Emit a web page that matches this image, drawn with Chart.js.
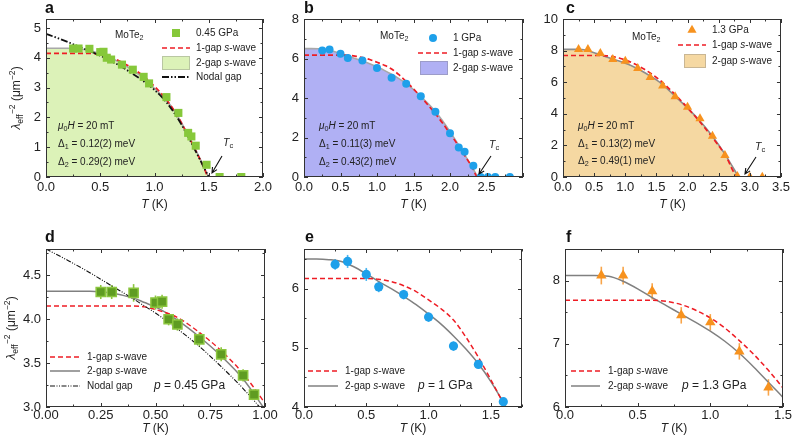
<!DOCTYPE html>
<html>
<head>
<meta charset="utf-8">
<script src="https://cdn.jsdelivr.net/npm/chart.js@4.4.1/dist/chart.umd.min.js"></script>
<style>
  body { margin: 0; background: #fff; width: 793px; height: 443px; overflow: hidden; position: relative; }
  canvas { position: absolute; }
</style>
</head>
<body>
<canvas id="cA" width="285" height="222" style="left:0;top:0"></canvas>
<canvas id="cB" width="275" height="222" style="left:270px;top:0"></canvas>
<canvas id="cC" width="263" height="222" style="left:530px;top:0"></canvas>
<canvas id="cD" width="285" height="221" style="left:0;top:222px"></canvas>
<canvas id="cE" width="275" height="221" style="left:270px;top:222px"></canvas>
<canvas id="cF" width="263" height="221" style="left:530px;top:222px"></canvas>
<script>
// ---- measured points (T in K, lambda^-2 in um^-2) ----
const t045 = [0.25, 0.30, 0.40, 0.50, 0.53, 0.56, 0.60, 0.70, 0.80, 0.90, 0.95, 1.11, 1.22, 1.31, 1.34, 1.38, 1.48, 1.60, 1.80];
const lam045 = [4.31, 4.31, 4.30, 4.19, 4.20, 4.00, 3.94, 3.77, 3.60, 3.36, 3.14, 2.68, 2.15, 1.48, 1.36, 1.05, 0.41, 0, 0];
const err045 = [0.08, 0.08, 0.10, 0.08, 0.08, 0.07, 0.07, 0.08, 0.08, 0.07, 0.06, 0.05, 0.05, 0.05, 0.05, 0.05, 0.05, 0.05, 0.05];

const t1 = [0.25, 0.35, 0.50, 0.60, 0.80, 1.00, 1.20, 1.40, 1.60, 1.80, 2.00, 2.12, 2.20, 2.32, 2.42, 2.52, 2.62, 2.82];
const lam1 = [6.41, 6.46, 6.24, 6.03, 5.90, 5.52, 5.03, 4.72, 4.09, 3.31, 2.21, 1.49, 1.28, 0.57, 0, 0, 0, 0];
const err1 = [0.09, 0.11, 0.11, 0.09, 0.08, 0.08, 0.08, 0.07, 0.06, 0.06, 0.06, 0.06, 0.06, 0.06, 0.06, 0.06, 0.06, 0.06];

const t13 = [0.25, 0.40, 0.60, 0.80, 1.00, 1.20, 1.40, 1.60, 1.80, 2.00, 2.20, 2.40, 2.60, 2.80, 3.00, 3.20];
const lam13 = [8.08, 8.08, 7.83, 7.45, 7.34, 6.88, 6.31, 5.77, 5.09, 4.43, 3.70, 2.59, 1.37, 0.05, 0, 0];
const err13 = [0.14, 0.14, 0.13, 0.13, 0.13, 0.13, 0.13, 0.1, 0.1, 0.1, 0.1, 0.1, 0.1, 0.1, 0.1, 0.1];

// ---- fitted curves ----
const fitT045 = [0, 0.1, 0.2, 0.3, 0.4, 0.45, 0.5, 0.6, 0.7, 0.8, 0.9, 1.0, 1.1, 1.2, 1.3, 1.4, 1.45, 1.5, 1.75, 2.0];
const oneGap045 = [4.15, 4.15, 4.15, 4.15, 4.15, 4.14, 4.11, 4.02, 3.85, 3.64, 3.38, 3.04, 2.64, 2.12, 1.46, 0.74, 0.36, 0, 0, 0];
const twoGap045 = [4.32, 4.32, 4.32, 4.30, 4.24, 4.19, 4.14, 3.99, 3.80, 3.58, 3.32, 2.97, 2.62, 2.12, 1.47, 0.76, 0.38, 0];
const nodal045 = [4.8, 4.67, 4.53, 4.38, 4.23, 4.15, 4.07, 3.89, 3.69, 3.46, 3.21, 2.92, 2.55, 2.05, 1.42, 0.72, 0.36, 0];

const fitT1 = [0, 0.1, 0.2, 0.3, 0.4, 0.5, 0.6, 0.7, 0.8, 0.9, 1.0, 1.1, 1.2, 1.3, 1.4, 1.5, 1.6, 1.7, 1.8, 1.9, 2.0, 2.1, 2.2, 2.3, 2.38, 2.7, 3.0];
const oneGap1 = [6.17, 6.17, 6.17, 6.17, 6.17, 6.17, 6.16, 6.12, 6.05, 5.95, 5.81, 5.66, 5.47, 5.18, 4.84, 4.46, 4.06, 3.64, 3.2, 2.72, 2.2, 1.67, 1.1, 0.52, 0, 0, 0];
const twoGap1 = [6.5, 6.5, 6.49, 6.46, 6.37, 6.25, 6.12, 6.0, 5.87, 5.73, 5.57, 5.4, 5.2, 4.98, 4.73, 4.43, 4.08, 3.72, 3.32, 2.84, 2.3, 1.73, 1.13, 0.52, 0];

const fitT13 = [0, 0.1, 0.2, 0.3, 0.4, 0.5, 0.6, 0.7, 0.8, 0.9, 1.0, 1.1, 1.2, 1.3, 1.4, 1.5, 1.6, 1.8, 2.0, 2.2, 2.4, 2.6, 2.82, 3.2, 3.5];
const oneGap13 = [7.69, 7.69, 7.69, 7.69, 7.69, 7.69, 7.69, 7.67, 7.62, 7.53, 7.41, 7.25, 7.05, 6.83, 6.58, 6.3, 5.98, 5.22, 4.38, 3.48, 2.5, 1.42, 0, 0, 0];
const twoGap13 = [8.08, 8.08, 8.08, 8.07, 7.99, 7.87, 7.73, 7.6, 7.47, 7.34, 7.2, 7.04, 6.85, 6.63, 6.39, 6.15, 5.85, 5.12, 4.36, 3.55, 2.58, 1.45, 0];

const FONT = '"Liberation Sans", Arial, Helvetica, sans-serif';
const RED = "#ee1c24";
const GREEN = "#86c83a", GREEN_D = "#5f9c22", GREEN_E = "#8cc63f";
const BLUE = "#1ea0ea", BLUE_E = "#4db6f0";
const ORANGE = "#f7921e", ORANGE_E = "#f8a54a";

function zip(xs, ys, es) {
  const n = Math.min(xs.length, ys.length);
  const out = [];
  for (let i = 0; i < n; i++) out.push({ x: xs[i], y: ys[i], e: es ? es[i] : 0 });
  return out;
}

// rich text: parts = [{t, i (italic), sub, sup}]
function partFont(p, size) {
  const s = (p.sub || p.sup) ? size * 0.72 : size;
  return (p.i ? "italic " : "") + (p.b ? "bold " : "") + s + "px " + FONT;
}
function richWidth(ctx, parts, size) {
  let w = 0;
  parts.forEach(p => { ctx.font = partFont(p, size); w += ctx.measureText(p.t).width; });
  return w;
}
function drawRich(ctx, parts, x, y, size, align) {
  let cx = x;
  if (align === "center") cx -= richWidth(ctx, parts, size) / 2;
  ctx.textAlign = "left";
  ctx.textBaseline = "middle";
  parts.forEach(p => {
    ctx.font = partFont(p, size);
    let dy = 0;
    if (p.sub) dy = size * 0.3;
    if (p.sup) dy = -size * 0.38;
    ctx.fillText(p.t, cx, y + dy);
    cx += ctx.measureText(p.t).width;
  });
}

const sWave1 = [{ t: "1-gap " }, { t: "s", i: 1 }, { t: "-wave" }];
const sWave2 = [{ t: "2-gap " }, { t: "s", i: 1 }, { t: "-wave" }];
const moTe = [{ t: "MoTe" }, { t: "2", sub: 1 }];
const yTitle = [{ t: "λ", i: 1 }, { t: "eff", sub: 1 }, { t: "−2", sup: 1 }, { t: " (μm" }, { t: "−2", sup: 1 }, { t: ")" }];
const xTitle = [{ t: "T", i: 1 }, { t: " (K)" }];
function fieldText() { return [{ t: "μ", i: 1 }, { t: "0", sub: 1 }, { t: "H", i: 1 }, { t: " = 20 mT" }]; }
function gapText(n, v) { return [{ t: "Δ" }, { t: String(n), sub: 1 }, { t: " = " + v + " meV" }]; }

const decos = {};

function drawKey(ctx, k) {
  ctx.save();
  if (k.kind === "point") {
    ctx.fillStyle = k.color;
    ctx.strokeStyle = k.color;
    Chart.helpers.drawPoint(ctx, { pointStyle: k.style, radius: k.r, rotation: 0, borderWidth: 0 }, k.x, k.y);
  } else if (k.kind === "box") {
    ctx.fillStyle = k.fill;
    ctx.fillRect(k.x1, k.y - 7, k.x2 - k.x1, 14);
    ctx.strokeStyle = "rgba(120,120,120,0.35)";
    ctx.lineWidth = 1;
    ctx.strokeRect(k.x1 + 0.5, k.y - 6.5, k.x2 - k.x1 - 1, 13);
  } else {
    ctx.beginPath();
    ctx.strokeStyle = k.color;
    ctx.lineWidth = k.w;
    ctx.setLineDash(k.dash || []);
    ctx.moveTo(k.x1, k.y);
    ctx.lineTo(k.x2, k.y);
    ctx.stroke();
  }
  ctx.restore();
  ctx.fillStyle = "#222";
  drawRich(ctx, k.text, k.tx, k.y, k.fs || 10);
}

function drawArrow(ctx, x1, y1, x2, y2) {
  ctx.save();
  ctx.strokeStyle = "#111";
  ctx.lineWidth = 1.1;
  ctx.beginPath();
  ctx.moveTo(x1, y1);
  ctx.lineTo(x2, y2);
  const a = Math.atan2(y2 - y1, x2 - x1);
  ctx.moveTo(x2 - 6 * Math.cos(a - 0.45), y2 - 6 * Math.sin(a - 0.45));
  ctx.lineTo(x2, y2);
  ctx.lineTo(x2 - 6 * Math.cos(a + 0.45), y2 - 6 * Math.sin(a + 0.45));
  ctx.stroke();
  ctx.restore();
}

Chart.register({
  id: "deco",
  beforeDatasetsDraw(chart) {
    const ctx = chart.ctx, ys = chart.scales.y, a = chart.chartArea;
    chart.data.datasets.forEach((ds, i) => {
      if (!ds.errColor) return;
      const meta = chart.getDatasetMeta(i);
      ctx.save();
      ctx.beginPath();
      ctx.rect(a.left, a.top, a.right - a.left, a.bottom - a.top);
      ctx.clip();
      ctx.strokeStyle = ds.errColor;
      ctx.lineWidth = 1.6;
      meta.data.forEach((pt, j) => {
        const p = ds.data[j];
        ctx.beginPath();
        ctx.moveTo(pt.x, ys.getPixelForValue(p.y - p.e));
        ctx.lineTo(pt.x, ys.getPixelForValue(p.y + p.e));
        ctx.stroke();
      });
      ctx.restore();
    });
  },
  afterDraw(chart) {
    const D = decos[chart.canvas.id];
    if (!D) return;
    const ctx = chart.ctx, a = chart.chartArea, xs = chart.scales.x, ys = chart.scales.y;
    // frame and inward ticks on all four sides
    ctx.save();
    ctx.strokeStyle = "#333";
    ctx.lineWidth = 1;
    ctx.strokeRect(Math.round(a.left) + 0.5, Math.round(a.top) + 0.5, Math.round(a.right - a.left) - 1, Math.round(a.bottom - a.top) - 1);
    ctx.beginPath();
    const nx = Math.round((xs.max - xs.min) / D.minorX + 1e-6);
    for (let i = 0; i <= nx; i++) {
      const v = xs.min + i * D.minorX;
      const r = v / D.majorX;
      const len = Math.abs(r - Math.round(r)) < 1e-6 ? 4 : 2.5;
      const px = Math.round(xs.getPixelForValue(v)) + 0.5;
      ctx.moveTo(px, a.bottom); ctx.lineTo(px, a.bottom - len);
      ctx.moveTo(px, a.top); ctx.lineTo(px, a.top + len);
    }
    const ny = Math.floor((ys.max - ys.min) / D.minorY + 1e-6);
    for (let i = 0; i <= ny; i++) {
      const v = ys.min + i * D.minorY;
      const r = v / D.majorY;
      const len = Math.abs(r - Math.round(r)) < 1e-6 ? 4 : 2.5;
      const py = Math.round(ys.getPixelForValue(v)) + 0.5;
      ctx.moveTo(a.left, py); ctx.lineTo(a.left + len, py);
      ctx.moveTo(a.right, py); ctx.lineTo(a.right - len, py);
    }
    ctx.stroke();
    ctx.restore();

    // annotations in page coordinates
    ctx.save();
    ctx.translate(-D.left, -D.top);
    ctx.fillStyle = "#111";
    ctx.font = "bold 16px " + FONT;
    ctx.textAlign = "left";
    ctx.textBaseline = "alphabetic";
    ctx.fillText(D.letter[0], D.letter[1], D.letter[2]);
    ctx.fillStyle = "#222";
    drawRich(ctx, xTitle, D.xTitle[0], D.xTitle[1], 12, "center");
    if (D.yTitle) {
      ctx.save();
      ctx.translate(D.yTitle[0], D.yTitle[1]);
      ctx.rotate(-Math.PI / 2);
      drawRich(ctx, yTitle, 0, 0, 12, "center");
      ctx.restore();
    }
    (D.texts || []).forEach(tx => drawRich(ctx, tx.parts, tx.x, tx.y, tx.fs || 10));
    (D.keys || []).forEach(k => drawKey(ctx, k));
    if (D.tc) {
      ctx.fillStyle = "#222";
      drawRich(ctx, [{ t: "T", i: 1 }, { t: "c", sub: 1 }], D.tc.tx, D.tc.ty, 10.5);
      drawArrow(ctx, D.tc.x1, D.tc.y1, D.tc.x2, D.tc.y2);
    }
    ctx.restore();
  }
});

function makePanel(id, box, plot, ax, datasets, deco) {
  deco.left = box.l;
  deco.top = box.t;
  decos[id] = deco;
  const tickFont = { family: FONT, size: 13 };
  return new Chart(document.getElementById(id), {
    type: "scatter",
    data: { datasets: datasets },
    options: {
      responsive: false,
      animation: false,
      events: [],
      layout: { padding: { left: 0, top: plot.t - box.t, right: box.l + box.w - plot.r, bottom: 0 } },
      plugins: { legend: { display: false }, tooltip: { enabled: false } },
      scales: {
        x: {
          type: "linear", min: ax.x[0], max: ax.x[1],
          grid: { display: false, drawTicks: false }, border: { display: false },
          afterFit: s => { s.height = box.t + box.h - plot.b; },
          ticks: {
            stepSize: ax.x[2], includeBounds: false, padding: ax.xPad, autoSkip: false, maxRotation: 0,
            font: tickFont, color: "#222",
            callback: v => (ax.xHide && Math.abs(v - ax.xHide) < 1e-6) ? "" : v.toFixed(ax.x[3])
          }
        },
        y: {
          type: "linear", min: ax.y[0], max: ax.y[1],
          grid: { display: false, drawTicks: false }, border: { display: false },
          afterFit: s => { s.width = plot.l - box.l; },
          ticks: {
            stepSize: ax.y[2], includeBounds: false, padding: 5,
            font: tickFont, color: "#222",
            callback: v => v.toFixed(ax.y[3])
          }
        }
      }
    }
  });
}

function pointsSet(data, style, r, color, extra) {
  return Object.assign({ data: data, pointStyle: style, pointRadius: r, backgroundColor: color, borderWidth: 0, showLine: false }, extra || {});
}
function curve(data, color, width, dash, extra) {
  return Object.assign({
    type: "line", data: data, borderColor: color, borderWidth: width, borderDash: dash || [],
    pointRadius: 0, fill: false, cubicInterpolationMode: "monotone"
  }, extra || {});
}
const nodalDashTop = [7, 2, 1.5, 2, 1.5, 2];
const nodalDashBot = [5, 1.5, 1, 1.5, 1, 1.5];

// ---- a: 0.45 GPa ----
makePanel("cA", { l: 0, t: 0, w: 285, h: 222 }, { l: 46, t: 19, r: 263, b: 177 },
  { x: [0, 2, 0.5, 1], y: [0, 5.3, 1, 0], xPad: 3 },
  [
    pointsSet(zip(t045, lam045), "rect", 5.7, GREEN),
    curve(zip(fitT045, nodal045), "#111", 1.8, nodalDashTop),
    curve(zip(fitT045, oneGap045), RED, 1.7, [5, 3]),
    curve(zip(fitT045, twoGap045), "#a8a8a8", 1.6, [], { fill: "origin", backgroundColor: "#dcf2b8" })
  ],
  {
    letter: ["a", 45, 13], xTitle: [154.5, 205], yTitle: [17, 98], minorX: 0.25, majorX: 0.5, minorY: 0.5, majorY: 1,
    texts: [
      { parts: moTe, x: 115, y: 35 },
      { parts: fieldText(), x: 58, y: 126 },
      { parts: gapText(1, "0.12(2)"), x: 58, y: 144 },
      { parts: gapText(2, "0.29(2)"), x: 58, y: 162 }
    ],
    keys: [
      { kind: "point", style: "rect", r: 5.7, color: GREEN, x: 176, y: 33, text: [{ t: "0.45 GPa" }], tx: 196 },
      { kind: "line", color: RED, w: 1.7, dash: [5, 3], x1: 162, x2: 190, y: 48, text: sWave1, tx: 196 },
      { kind: "box", fill: "#dcf2b8", x1: 162, x2: 190, y: 63, text: sWave2, tx: 196 },
      { kind: "line", color: "#111", w: 1.8, dash: nodalDashTop, x1: 162, x2: 190, y: 77, text: [{ t: "Nodal gap" }], tx: 196 }
    ],
    tc: { tx: 223, ty: 143, x1: 222, y1: 156, x2: 212, y2: 173 }
  });

// ---- b: 1 GPa ----
makePanel("cB", { l: 270, t: 0, w: 275, h: 222 }, { l: 304, t: 19, r: 523, b: 177 },
  { x: [0, 3, 0.5, 1], y: [0, 8, 2, 0], xHide: 3, xPad: 3 },
  [
    pointsSet(zip(t1, lam1), "circle", 4, BLUE),
    curve(zip(fitT1, oneGap1), RED, 1.7, [5, 3]),
    curve(zip(fitT1, twoGap1), "#a8a8a8", 1.6, [], { fill: "origin", backgroundColor: "#b0b0f4" })
  ],
  {
    letter: ["b", 304, 13], xTitle: [413.5, 205], minorX: 0.25, majorX: 0.5, minorY: 1, majorY: 2,
    texts: [
      { parts: moTe, x: 380, y: 36 },
      { parts: fieldText(), x: 319, y: 126 },
      { parts: gapText(1, "0.11(3)"), x: 319, y: 144 },
      { parts: gapText(2, "0.43(2)"), x: 319, y: 162 }
    ],
    keys: [
      { kind: "point", style: "circle", r: 4, color: BLUE, x: 433, y: 38, text: [{ t: "1 GPa" }], tx: 453 },
      { kind: "line", color: RED, w: 1.7, dash: [5, 3], x1: 418, x2: 448, y: 53, text: sWave1, tx: 453 },
      { kind: "box", fill: "#b0b0f4", x1: 420, x2: 448, y: 68, text: sWave2, tx: 453 }
    ],
    tc: { tx: 489, ty: 145, x1: 491, y1: 156, x2: 479, y2: 174 }
  });

// ---- c: 1.3 GPa ----
makePanel("cC", { l: 530, t: 0, w: 263, h: 222 }, { l: 563, t: 19, r: 782, b: 177 },
  { x: [0, 3.5, 0.5, 1], y: [0, 10, 2, 0], xPad: 3 },
  [
    pointsSet(zip(t13, lam13), "triangle", 5.3, ORANGE),
    curve(zip(fitT13, oneGap13), RED, 1.7, [5, 3]),
    curve(zip(fitT13, twoGap13), "#8c8c8c", 1.6, [], { fill: "origin", backgroundColor: "#f5d8a2" })
  ],
  {
    letter: ["c", 566, 13], xTitle: [672.5, 205], minorX: 0.25, majorX: 0.5, minorY: 1, majorY: 2,
    texts: [
      { parts: moTe, x: 632, y: 37 },
      { parts: fieldText(), x: 578, y: 126 },
      { parts: gapText(1, "0.13(2)"), x: 578, y: 144 },
      { parts: gapText(2, "0.49(1)"), x: 578, y: 161 }
    ],
    keys: [
      { kind: "point", style: "triangle", r: 5.3, color: ORANGE, x: 692, y: 30, text: [{ t: "1.3 GPa" }], tx: 712 },
      { kind: "line", color: RED, w: 1.7, dash: [5, 3], x1: 678, x2: 706, y: 45, text: sWave1, tx: 712 },
      { kind: "box", fill: "#f5d8a2", x1: 684, x2: 706, y: 61, text: sWave2, tx: 712 }
    ],
    tc: { tx: 755, ty: 147, x1: 756, y1: 157, x2: 745, y2: 174 }
  });

// ---- d: 0.45 GPa, low-T zoom ----
makePanel("cD", { l: 0, t: 222, w: 285, h: 221 }, { l: 46, t: 249, r: 265, b: 407 },
  { x: [0, 1, 0.25, 2], y: [3, 4.8, 0.5, 1], xPad: 1 },
  [
    pointsSet(zip(t045, lam045, err045).filter(p => p.x <= 1), "rect", 6.5, GREEN_D,
      { borderColor: GREEN_E, borderWidth: 1.5, errColor: GREEN_E }),
    curve(zip(fitT045, nodal045), "#111", 1.1, nodalDashBot),
    curve(zip(fitT045, oneGap045), RED, 1.4, [5, 3]),
    curve(zip(fitT045, twoGap045), "#808080", 1.5)
  ],
  {
    letter: ["d", 45, 242], xTitle: [155.5, 429], yTitle: [12, 328], minorX: 0.125, majorX: 0.25, minorY: 0.25, majorY: 0.5,
    texts: [{ parts: [{ t: "p", i: 1 }, { t: " = 0.45 GPa" }], x: 154, y: 386, fs: 12 }],
    keys: [
      { kind: "line", color: RED, w: 1.4, dash: [5, 3], x1: 50, x2: 80, y: 357, text: sWave1, tx: 87 },
      { kind: "line", color: "#808080", w: 1.5, x1: 50, x2: 80, y: 371, text: sWave2, tx: 87 },
      { kind: "line", color: "#111", w: 1.1, dash: nodalDashBot, x1: 50, x2: 80, y: 386, text: [{ t: "Nodal gap" }], tx: 87 }
    ]
  });

// ---- e: 1 GPa, low-T zoom ----
makePanel("cE", { l: 270, t: 222, w: 275, h: 221 }, { l: 304, t: 249, r: 522, b: 407 },
  { x: [0, 1.75, 0.5, 1], y: [4, 6.67, 1, 0], xPad: 1 },
  [
    pointsSet(zip(t1, lam1, err1).filter(p => p.x <= 1.75), "circle", 4.6, BLUE, { errColor: BLUE_E }),
    curve(zip(fitT1, oneGap1), RED, 1.5, [5, 3]),
    curve(zip(fitT1, twoGap1), "#808080", 1.5)
  ],
  {
    letter: ["e", 305, 242], xTitle: [413, 429], minorX: 0.25, majorX: 0.5, minorY: 0.5, majorY: 1,
    texts: [{ parts: [{ t: "p", i: 1 }, { t: " = 1 GPa" }], x: 418, y: 386, fs: 12 }],
    keys: [
      { kind: "line", color: RED, w: 1.5, dash: [5, 3], x1: 308, x2: 338, y: 371, text: sWave1, tx: 345 },
      { kind: "line", color: "#808080", w: 1.5, x1: 308, x2: 338, y: 386, text: sWave2, tx: 345 }
    ]
  });

// ---- f: 1.3 GPa, low-T zoom ----
makePanel("cF", { l: 530, t: 222, w: 263, h: 221 }, { l: 565, t: 249, r: 783, b: 407 },
  { x: [0, 1.5, 0.5, 1], y: [6, 8.5, 1, 0], xPad: 1 },
  [
    pointsSet(zip(t13, lam13, err13).filter(p => p.x <= 1.5), "triangle", 6, ORANGE, { errColor: ORANGE_E }),
    curve(zip(fitT13, oneGap13), RED, 1.5, [5, 3]),
    curve(zip(fitT13, twoGap13), "#808080", 1.5)
  ],
  {
    letter: ["f", 566, 242], xTitle: [674, 429], minorX: 0.25, majorX: 0.5, minorY: 0.5, majorY: 1,
    texts: [{ parts: [{ t: "p", i: 1 }, { t: " = 1.3 GPa" }], x: 682, y: 386, fs: 12 }],
    keys: [
      { kind: "line", color: RED, w: 1.5, dash: [5, 3], x1: 571, x2: 600, y: 371, text: sWave1, tx: 608 },
      { kind: "line", color: "#808080", w: 1.5, x1: 571, x2: 600, y: 386, text: sWave2, tx: 608 }
    ]
  });
</script>
</body>
</html>
